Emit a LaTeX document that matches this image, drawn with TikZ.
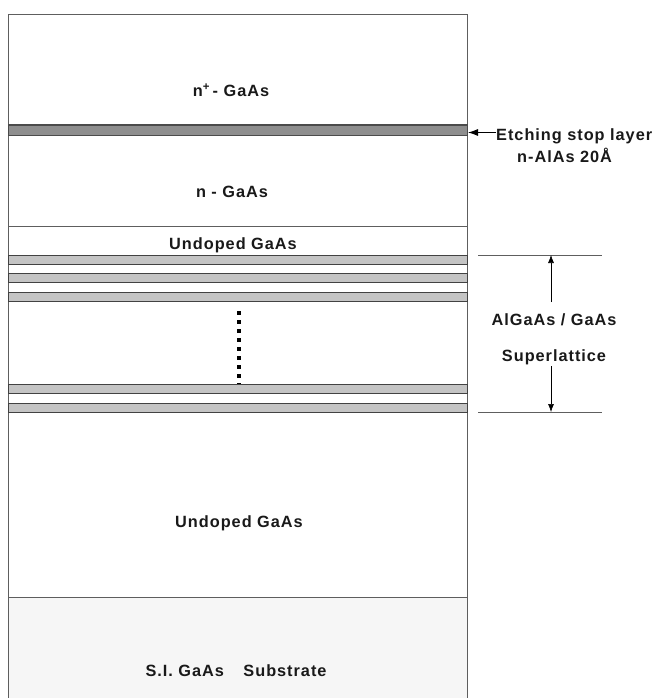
\documentclass[tikz,border=0pt]{standalone}
\usepackage{fontspec}
\newfontfamily\lbl{Liberation Sans}[LetterSpace=6]
\usetikzlibrary{arrows.meta}
\definecolor{edgec}{HTML}{5E5E5E}
\definecolor{etchc}{HTML}{8E8E8E}
\definecolor{slc}{HTML}{C4C4C4}
\definecolor{subc}{HTML}{F6F6F6}
\tikzset{
  edge/.style={draw=edgec, line width=1pt},
  etchband/.style={fill=etchc, draw=edgec!80!black, line width=1pt},
  slband/.style={fill=slc, draw=edgec!70!black, line width=1pt},
  lab/.style={font=\lbl\bfseries\fontsize{16.3}{18}\selectfont, text=black!90, inner sep=0pt},
  dimline/.style={draw=edgec, line width=0.8pt},
  dimarrow/.style={draw=black, line width=0.6pt, -{Latex[length=8pt,width=6pt]}},
}
\begin{document}
\begin{tikzpicture}[x=1pt,y=-1pt]
\useasboundingbox (0,0) rectangle (653,698);
% substrate fill
\fill[subc] (8,597) rectangle (467,698);
% outer frame
\draw[edge] (8,698) -- (8,15) -- (467,15) -- (467,698);
% layer boundaries
\draw[edge] (8,226) -- (467,226);
\draw[edge] (8,597) -- (467,597);
% etching stop layer
\filldraw[etchband] (8,125) rectangle (467,135);
% superlattice bands
\foreach \a/\b in {255/264, 273.5/282.5, 292/301, 384/393.5, 403/412}
  \filldraw[slband] (8,\a) rectangle (467,\b);
% dots
\draw[line width=4pt, dash pattern=on 4pt off 5pt] (239,311) -- (239,384);
% labels in layers
\node[lab] (nplus) at (231,90) {n\textsuperscript{+}\,- GaAs};
\node[lab] (ngaas) at (232,192) {n - GaAs};
\node[lab] (und1) at (233,245) {Undoped GaAs};
\node[lab] (und2) at (239,523) {Undoped GaAs};
\node[lab] (sub) at (236,671) {S.I. GaAs\hspace{1.2em}Substrate};
% etching stop annotation
\node[lab, anchor=west] (etch) at (496,136) {Etching stop layer};
\node[lab, anchor=west] (alas) at (517,155) {n-AlAs 20Å};
\coordinate (etchtip) at (468,132.5);
\draw[line width=0.9pt, -{Latex[length=10pt,width=7pt]}] (etch.west |- etchtip) -- (etchtip);
% superlattice dimension
\coordinate (d1a) at (478,255); \coordinate (d1b) at (602,255);
\coordinate (d2a) at (478,412); \coordinate (d2b) at (602,412);
\draw[dimline] (d1a) -- (d1b);
\draw[dimline] (d2a) -- (d2b);
\node[lab] (slt) at (554,320) {AlGaAs / GaAs};
\node[lab] (slb) at (554,357) {Superlattice};
\coordinate (up) at (551,255);
\coordinate (dn) at (551,412);
\draw[dimarrow] (551,302) -- (up);
\draw[dimarrow] (551,366) -- (dn);
\end{tikzpicture}
\end{document}
